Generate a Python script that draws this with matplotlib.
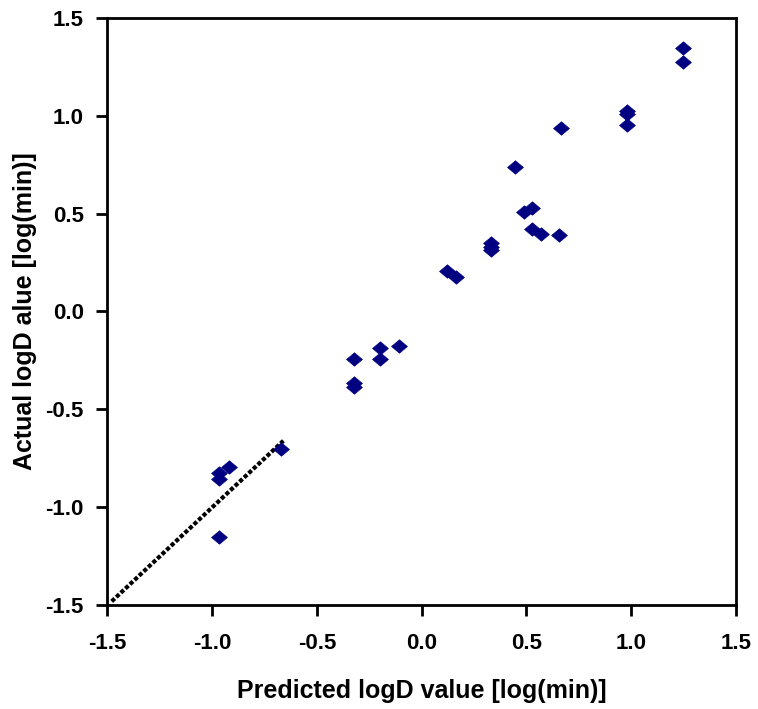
import matplotlib
matplotlib.use("Agg")
import matplotlib.pyplot as plt

# Data
predicted = [1.249, 1.249, 0.983, 0.983, 0.983, 0.668, 0.446, 0.488, 0.528, 0.528,
             0.568, 0.658, 0.330, 0.330, 0.330, 0.119, 0.165, -0.109, -0.197, -0.197,
             -0.322, -0.322, -0.322, -0.672, -0.921, -0.969, -0.969, -0.969]
actual = [1.343, 1.272, 1.026, 1.008, 0.954, 0.937, 0.738, 0.510, 0.526, 0.421,
          0.397, 0.389, 0.349, 0.331, 0.313, 0.206, 0.175, -0.175, -0.187, -0.242,
          -0.242, -0.365, -0.385, -0.702, -0.794, -0.825, -0.855, -1.153]
line_x = [-1.48, -0.66]
line_y = [-1.48, -0.66]

ticks = [-1.5, -1.0, -0.5, 0.0, 0.5, 1.0, 1.5]
tick_labels = ["-1.5", "-1.0", "-0.5", "0.0", "0.5", "1.0", "1.5"]

plt.rcParams['font.family'] = ['Liberation Sans', 'DejaVu Sans']

fig = plt.figure(figsize=(7.58, 7.09), dpi=100)
ax = fig.add_axes([0.1418, 0.1463, 0.9706 - 0.1418, 0.975 - 0.1463])

ax.plot(line_x, line_y, color='black', linestyle=(0, (1, 0.5)), linewidth=3, zorder=2)

diamond = [(-1, 0), (0, 0.85), (1, 0), (0, -0.85), (-1, 0)]
ax.scatter(predicted, actual, marker=diamond, s=130, color='#000080',
           edgecolors='#000080', linewidths=0.5, zorder=3)

ax.set_xlim(-1.5, 1.5)
ax.set_ylim(-1.5, 1.5)
ax.set_xticks(ticks)
ax.set_xticklabels(tick_labels)
ax.set_yticks(ticks)
ax.set_yticklabels(tick_labels)

for sp in ax.spines.values():
    sp.set_linewidth(2)
    sp.set_color('black')

ax.tick_params(axis='both', direction='out', length=8, width=2, colors='black',
               labelsize=16)
ax.tick_params(axis='x', pad=12)
ax.tick_params(axis='y', pad=9)
for lab in ax.get_xticklabels() + ax.get_yticklabels():
    lab.set_fontweight('bold')

ax.set_xlabel("Predicted logD value [log(min)]", fontsize=18, fontweight='bold', labelpad=18)
ax.set_ylabel("Actual logD alue [log(min)]", fontsize=18, fontweight='bold', labelpad=6)

fig.savefig("out.png", dpi=100)
